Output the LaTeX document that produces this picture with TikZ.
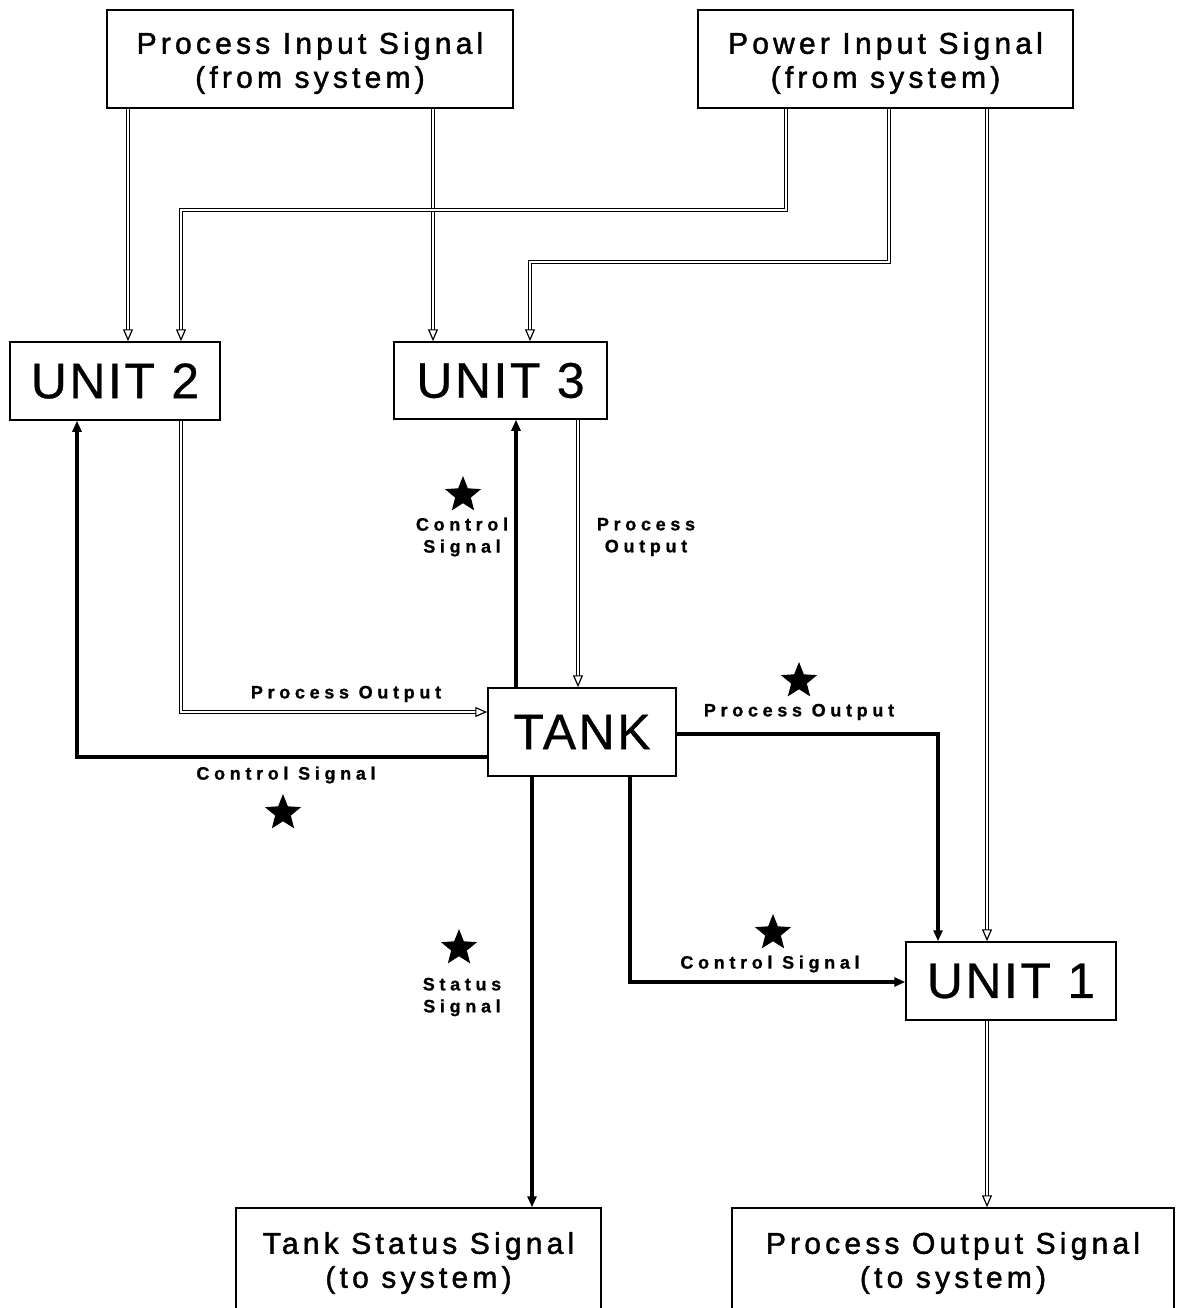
\documentclass[tikz,border=0pt]{standalone}
\usepackage{fontspec}
\setmainfont{Liberation Sans}
\newfontfamily\boxfont[LetterSpace=14,FakeBold=1.5]{Liberation Sans}
\newfontfamily\unitfont[LetterSpace=5,FakeBold=0.6]{Liberation Sans}
\newfontfamily\labfont[LetterSpace=26,FakeBold=1]{Liberation Sans}
\usetikzlibrary{arrows.meta,shapes.geometric,calc}
\begin{document}
\begin{tikzpicture}[x=1pt,y=-1pt,
  box/.style={draw,line width=1.5pt,inner sep=0pt,align=center},
  sysbox/.style={box},
  systext/.style={inner sep=0pt,align=center,font=\boxfont\fontsize{30}{34}\selectfont},
  unitbox/.style={box,font=\unitfont\fontsize{50}{54}\selectfont},
  lab/.style={inner sep=0pt,align=center,font=\labfont\bfseries\fontsize{18}{22}\selectfont},
  starmark/.style={star,star points=5,star point ratio=2.3,fill=black,minimum size=38pt,inner sep=0pt},
  proc/.style={double,double distance=2.2pt,line width=1.2pt,line join=miter,
    -{Triangle[open,length=12pt,width=10pt,line width=1.2pt]}},
  pow/.style={proc,double distance=1.2pt,line width=1.8pt},
  ctl/.style={line width=3.4pt,line join=miter,-{Triangle[length=11pt,width=9pt]}}]
\useasboundingbox (0,0) rectangle (1178,1308);

% blocks
\node[sysbox,minimum width=406pt,minimum height=98pt] (pin) at (310,59) {};
\node[sysbox,minimum width=375pt,minimum height=98pt] (pwr) at (885.5,59) {};
\node[unitbox,minimum width=210pt,minimum height=78pt] (u2) at (115,381) {UNIT 2};
\node[unitbox,minimum width=213pt,minimum height=77pt] (u3) at (500.5,380.5) {UNIT 3};
\node[unitbox,minimum width=188pt,minimum height=88pt] (tank) at (582,732) {TANK};
\node[unitbox,minimum width=210pt,minimum height=78pt] (u1) at (1011,981) {UNIT 1};
\node[sysbox,minimum width=365pt,minimum height=108pt] (tsig) at (418.5,1262) {};
\node[sysbox,minimum width=442pt,minimum height=108pt] (posig) at (953,1262) {};

% block texts
\node[systext] (pint) at ($(pin)+(0,4)$) {Process Input Signal\\(from system)};
\node[systext] (pwrt) at ($(pwr)+(0,4)$) {Power Input Signal\\(from system)};
\node[systext] (tsigt) at ($(tsig)+(0,1)$) {Tank Status Signal\\(to system)};
\node[systext] (posigt) at ($(posig)+(0,1)$) {Process Output Signal\\(to system)};

% connector columns and rows
\coordinate (xa) at (128,0);
\coordinate (xb) at (181,0);
\coordinate (xc) at (433,0);
\coordinate (xd) at (530,0);
\coordinate (xe) at (786,0);
\coordinate (xf) at (889,0);
\coordinate (xg) at (987,0);
\coordinate (xh) at (77,0);
\coordinate (xi) at (516,0);
\coordinate (xj) at (578,0);
\coordinate (xk) at (630,0);
\coordinate (xl) at (532,0);
\coordinate (xm) at (938,0);
\coordinate (ya) at (0,210);
\coordinate (yb) at (0,262);
\coordinate (yc) at (0,712);
\coordinate (yd) at (0,757);
\coordinate (ye) at (0,734);
\coordinate (yf) at (0,982);

% process and power lines
\draw[proc] (pin.south -| xa) -- (u2.north -| xa);
\draw[proc] (pin.south -| xc) -- (u3.north -| xc);
\draw[pow] (pwr.south -| xe) |- (xb |- ya) -- (u2.north -| xb);
\draw[pow] (pwr.south -| xf) |- (xd |- yb) -- (u3.north -| xd);
\draw[proc] (pwr.south -| xg) -- (u1.north -| xg);
\draw[proc] (u2.south -| xb) |- (tank.west |- yc);
\draw[proc] (u3.south -| xj) -- (tank.north -| xj);
\draw[proc] (u1.south -| xg) -- (posig.north -| xg);

% control and status lines
\draw[ctl] (tank.west |- yd) -| (u2.south -| xh);
\draw[ctl] (tank.north -| xi) -- (u3.south -| xi);
\draw[ctl] (tank.east |- ye) -| (u1.north -| xm);
\draw[ctl] (tank.south -| xk) |- (u1.west |- yf);
\draw[ctl] (tank.south -| xl) -- (tsig.north -| xl);

% labels
\node[lab] (l1) at (346,694) {Process Output};
\node[lab] (l2) at (286,775) {Control Signal};
\node[starmark] (s2) at (283,813) {};
\node[lab] (l3) at (462,537) {Control\\Signal};
\node[starmark] (s3) at (463,495) {};
\node[lab] (l4) at (646,537) {Process\\Output};
\node[lab] (l5) at (799,712) {Process Output};
\node[starmark] (s5) at (799,681) {};
\node[lab] (l6) at (770,964) {Control Signal};
\node[starmark] (s6) at (773,933) {};
\node[lab] (l7) at (462,997) {Status\\Signal};
\node[starmark] (s7) at (459,948) {};
\end{tikzpicture}
\end{document}
